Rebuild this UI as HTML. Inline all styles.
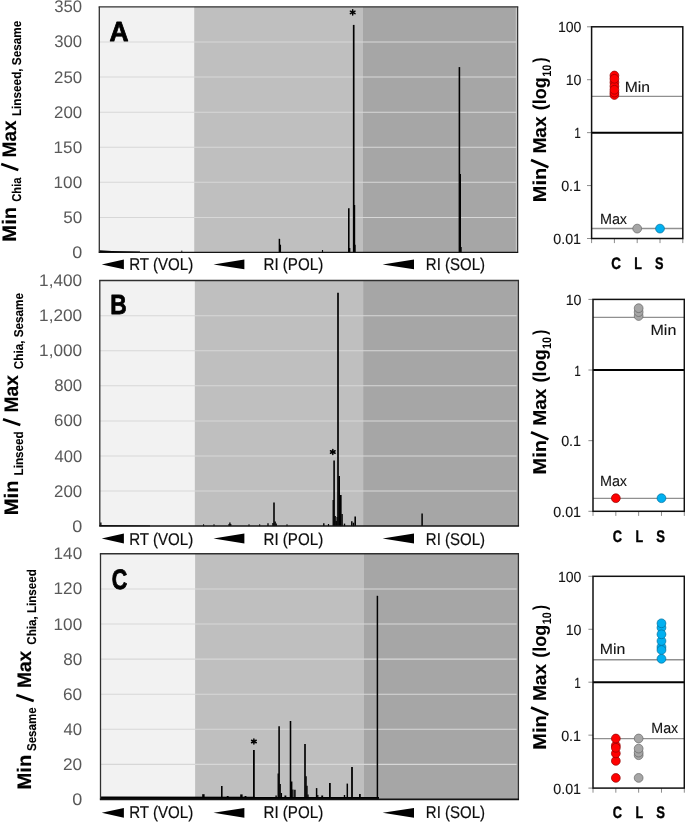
<!DOCTYPE html>
<html><head><meta charset="utf-8"><title>Figure</title>
<style>html,body{margin:0;padding:0;background:#fff;}svg{display:block;will-change:transform;opacity:0.999;}text{font-family:"Liberation Sans", sans-serif;text-rendering:geometricPrecision;}</style>
</head><body>
<svg width="685" height="822" viewBox="0 0 685 822">
<rect x="0" y="0" width="685" height="822" fill="#ffffff"/>
<g>
<rect x="99.3" y="6.8" width="94.9" height="245.65" fill="#f2f2f2"/>
<rect x="194.2" y="6.8" width="168.2" height="245.65" fill="#bfbfbf"/>
<rect x="362.4" y="6.8" width="155.25" height="245.65" fill="#a6a6a6"/>
<line x1="99.3" y1="217.44" x2="516.65" y2="217.44" stroke="#d7d7d7" stroke-width="1.05"/>
<line x1="99.3" y1="182.34" x2="516.65" y2="182.34" stroke="#d7d7d7" stroke-width="1.05"/>
<line x1="99.3" y1="147.25" x2="516.65" y2="147.25" stroke="#d7d7d7" stroke-width="1.05"/>
<line x1="99.3" y1="112.16" x2="516.65" y2="112.16" stroke="#d7d7d7" stroke-width="1.05"/>
<line x1="99.3" y1="77.07" x2="516.65" y2="77.07" stroke="#d7d7d7" stroke-width="1.05"/>
<line x1="99.3" y1="41.97" x2="516.65" y2="41.97" stroke="#d7d7d7" stroke-width="1.05"/>
<text x="72.18" y="258.05" font-size="16.9" font-weight="normal" fill="#595959" textLength="10.02" lengthAdjust="spacingAndGlyphs">0</text>
<text x="63.22" y="222.96" font-size="16.9" font-weight="normal" fill="#595959" textLength="18.96" lengthAdjust="spacingAndGlyphs">50</text>
<text x="53.62" y="187.86" font-size="16.9" font-weight="normal" fill="#595959" textLength="28.54" lengthAdjust="spacingAndGlyphs">100</text>
<text x="53.62" y="152.77" font-size="16.9" font-weight="normal" fill="#595959" textLength="28.54" lengthAdjust="spacingAndGlyphs">150</text>
<text x="54.06" y="117.68" font-size="16.9" font-weight="normal" fill="#595959" textLength="28.09" lengthAdjust="spacingAndGlyphs">200</text>
<text x="54.06" y="82.59" font-size="16.9" font-weight="normal" fill="#595959" textLength="28.09" lengthAdjust="spacingAndGlyphs">250</text>
<text x="54.27" y="47.49" font-size="16.9" font-weight="normal" fill="#595959" textLength="27.87" lengthAdjust="spacingAndGlyphs">300</text>
<text x="54.27" y="12.4" font-size="16.9" font-weight="normal" fill="#595959" textLength="27.87" lengthAdjust="spacingAndGlyphs">350</text>
<line x1="279.4" y1="238.8" x2="279.4" y2="252.45" stroke="#000" stroke-width="1.49"/>
<line x1="280.4" y1="244.7" x2="280.4" y2="252.45" stroke="#000" stroke-width="1.3"/>
<line x1="322.5" y1="250" x2="322.5" y2="252.45" stroke="#000" stroke-width="1.12"/>
<line x1="348.8" y1="208.2" x2="348.8" y2="252.45" stroke="#000" stroke-width="1.58"/>
<line x1="349.7" y1="248" x2="349.7" y2="252.45" stroke="#000" stroke-width="1.3"/>
<line x1="353.7" y1="24.9" x2="353.7" y2="252.45" stroke="#000" stroke-width="1.67"/>
<line x1="354.6" y1="205" x2="354.6" y2="252.45" stroke="#000" stroke-width="1.21"/>
<line x1="355" y1="244.7" x2="355" y2="252.45" stroke="#000" stroke-width="1.3"/>
<line x1="459.4" y1="67.1" x2="459.4" y2="252.45" stroke="#000" stroke-width="1.58"/>
<line x1="460.3" y1="173.9" x2="460.3" y2="252.45" stroke="#000" stroke-width="1.4"/>
<line x1="461" y1="246.9" x2="461" y2="252.45" stroke="#000" stroke-width="1.4"/>
<line x1="181.8" y1="250.6" x2="181.8" y2="252.45" stroke="#000" stroke-width="0.93"/>
<polygon points="99.4,250.2 112,250.9 140,251.6 140,252.4 99.4,252.4" fill="#000"/>
<line x1="516.3" y1="6.8" x2="516.3" y2="252.35" stroke="#cfcfcf" stroke-width="1"/>
<line x1="98.65" y1="6.8" x2="518.25" y2="6.8" stroke="#303030" stroke-width="1.3"/>
<line x1="99.3" y1="6.8" x2="99.3" y2="252.35" stroke="#303030" stroke-width="1.3"/>
<line x1="517.65" y1="6.8" x2="517.65" y2="252.35" stroke="#303030" stroke-width="1.2"/>
<line x1="98.65" y1="252.35" x2="518.25" y2="252.35" stroke="#141414" stroke-width="1.4"/>
<text x="109.44" y="40.95" font-size="27.6" font-weight="bold" fill="#000" textLength="19.08" lengthAdjust="spacingAndGlyphs" stroke="#000" stroke-width="0.8" stroke-linejoin="round">A</text>
<line x1="352.7" y1="15" x2="352.7" y2="9.8" stroke="#000" stroke-width="1.5" stroke-linecap="round"/>
<line x1="350.36" y1="13.64" x2="355.04" y2="11.16" stroke="#000" stroke-width="1.5" stroke-linecap="round"/>
<line x1="350.36" y1="11.16" x2="355.04" y2="13.64" stroke="#000" stroke-width="1.5" stroke-linecap="round"/>
<path d="M101.7 264.4 L123.9 259.5 L123.9 269.3 Z" fill="#000"/>
<path d="M213.5 264.4 L244.4 259.5 L244.4 269.3 Z" fill="#000"/>
<path d="M382.6 264.4 L414 259.5 L414 269.3 Z" fill="#000"/>
<text x="129.15" y="270.35" font-size="17" font-weight="normal" fill="#0d0d0d" textLength="64.04" lengthAdjust="spacingAndGlyphs" stroke="#0d0d0d" stroke-width="0.2" stroke-linejoin="round">RT (VOL)</text>
<text x="263.45" y="270.35" font-size="17" font-weight="normal" fill="#0d0d0d" textLength="59.76" lengthAdjust="spacingAndGlyphs" stroke="#0d0d0d" stroke-width="0.2" stroke-linejoin="round">RI (POL)</text>
<text x="425.86" y="270.35" font-size="17" font-weight="normal" fill="#0d0d0d" textLength="59.13" lengthAdjust="spacingAndGlyphs" stroke="#0d0d0d" stroke-width="0.2" stroke-linejoin="round">RI (SOL)</text>
</g>
<g>
<rect x="99.8" y="280.5" width="95" height="245.6" fill="#f2f2f2"/>
<rect x="194.8" y="280.5" width="168.3" height="245.6" fill="#bfbfbf"/>
<rect x="363.1" y="280.5" width="155.3" height="245.6" fill="#a6a6a6"/>
<line x1="99.8" y1="491.09" x2="517.4" y2="491.09" stroke="#d7d7d7" stroke-width="1.05"/>
<line x1="99.8" y1="456.01" x2="517.4" y2="456.01" stroke="#d7d7d7" stroke-width="1.05"/>
<line x1="99.8" y1="420.92" x2="517.4" y2="420.92" stroke="#d7d7d7" stroke-width="1.05"/>
<line x1="99.8" y1="385.84" x2="517.4" y2="385.84" stroke="#d7d7d7" stroke-width="1.05"/>
<line x1="99.8" y1="350.75" x2="517.4" y2="350.75" stroke="#d7d7d7" stroke-width="1.05"/>
<line x1="99.8" y1="315.67" x2="517.4" y2="315.67" stroke="#d7d7d7" stroke-width="1.05"/>
<text x="72.18" y="531.7" font-size="16.9" font-weight="normal" fill="#595959" textLength="10.02" lengthAdjust="spacingAndGlyphs">0</text>
<text x="54.06" y="496.61" font-size="16.9" font-weight="normal" fill="#595959" textLength="28.09" lengthAdjust="spacingAndGlyphs">200</text>
<text x="54.53" y="461.53" font-size="16.9" font-weight="normal" fill="#595959" textLength="27.61" lengthAdjust="spacingAndGlyphs">400</text>
<text x="54.06" y="426.44" font-size="16.9" font-weight="normal" fill="#595959" textLength="28.09" lengthAdjust="spacingAndGlyphs">600</text>
<text x="54.19" y="391.36" font-size="16.9" font-weight="normal" fill="#595959" textLength="27.96" lengthAdjust="spacingAndGlyphs">800</text>
<text x="39.11" y="356.27" font-size="16.9" font-weight="normal" fill="#595959" textLength="43.04" lengthAdjust="spacingAndGlyphs">1,000</text>
<text x="39.11" y="321.19" font-size="16.9" font-weight="normal" fill="#595959" textLength="43.04" lengthAdjust="spacingAndGlyphs">1,200</text>
<text x="39.11" y="286.1" font-size="16.9" font-weight="normal" fill="#595959" textLength="43.04" lengthAdjust="spacingAndGlyphs">1,400</text>
<line x1="100.8" y1="522.5" x2="100.8" y2="526.1" stroke="#000" stroke-width="1.4"/>
<line x1="203.6" y1="524.2" x2="203.6" y2="526.1" stroke="#000" stroke-width="0.93"/>
<line x1="214" y1="524.2" x2="214" y2="526.1" stroke="#000" stroke-width="0.93"/>
<line x1="249" y1="524.2" x2="249" y2="526.1" stroke="#000" stroke-width="0.93"/>
<line x1="259.7" y1="524.2" x2="259.7" y2="526.1" stroke="#000" stroke-width="0.93"/>
<line x1="229" y1="524" x2="229" y2="526.1" stroke="#000" stroke-width="1.12"/>
<line x1="229.9" y1="522.6" x2="229.9" y2="526.1" stroke="#000" stroke-width="1.3"/>
<line x1="230.8" y1="524" x2="230.8" y2="526.1" stroke="#000" stroke-width="1.12"/>
<line x1="268" y1="523.2" x2="268" y2="526.1" stroke="#000" stroke-width="1.3"/>
<line x1="272.9" y1="523" x2="272.9" y2="526.1" stroke="#000" stroke-width="1.3"/>
<line x1="274" y1="502.6" x2="274" y2="526.1" stroke="#000" stroke-width="1.58"/>
<line x1="275.2" y1="521.5" x2="275.2" y2="526.1" stroke="#000" stroke-width="1.3"/>
<line x1="276.3" y1="523.5" x2="276.3" y2="526.1" stroke="#000" stroke-width="1.12"/>
<line x1="287" y1="524.2" x2="287" y2="526.1" stroke="#000" stroke-width="0.93"/>
<line x1="323.8" y1="523.2" x2="323.8" y2="526.1" stroke="#000" stroke-width="1.4"/>
<line x1="328.5" y1="524" x2="328.5" y2="526.1" stroke="#000" stroke-width="1.21"/>
<line x1="333.2" y1="500" x2="333.2" y2="526.1" stroke="#000" stroke-width="1.3"/>
<line x1="334.1" y1="460.4" x2="334.1" y2="526.1" stroke="#000" stroke-width="1.58"/>
<line x1="335.1" y1="516" x2="335.1" y2="526.1" stroke="#000" stroke-width="1.49"/>
<line x1="336.2" y1="521" x2="336.2" y2="526.1" stroke="#000" stroke-width="1.4"/>
<line x1="338" y1="292.8" x2="338" y2="526.1" stroke="#000" stroke-width="1.67"/>
<line x1="339.2" y1="476" x2="339.2" y2="526.1" stroke="#000" stroke-width="1.58"/>
<line x1="340.8" y1="495" x2="340.8" y2="526.1" stroke="#000" stroke-width="1.67"/>
<line x1="342.1" y1="514" x2="342.1" y2="526.1" stroke="#000" stroke-width="1.4"/>
<line x1="337" y1="517" x2="337" y2="526.1" stroke="#000" stroke-width="1.12"/>
<line x1="344.5" y1="523.6" x2="344.5" y2="526.1" stroke="#000" stroke-width="1.4"/>
<line x1="351.8" y1="521.2" x2="351.8" y2="526.1" stroke="#000" stroke-width="1.49"/>
<line x1="353.5" y1="522.7" x2="353.5" y2="526.1" stroke="#000" stroke-width="1.4"/>
<line x1="355.2" y1="516.4" x2="355.2" y2="526.1" stroke="#000" stroke-width="1.58"/>
<line x1="422.1" y1="513.4" x2="422.1" y2="526.1" stroke="#000" stroke-width="1.49"/>
<polygon points="99.8,524.9 150,525.5 150,526.2 99.8,526.2" fill="#000"/>
<line x1="517.1" y1="280.5" x2="517.1" y2="526" stroke="#b4b4b4" stroke-width="1"/>
<line x1="99.15" y1="280.5" x2="519.05" y2="280.5" stroke="#303030" stroke-width="1.3"/>
<line x1="99.8" y1="280.5" x2="99.8" y2="526" stroke="#303030" stroke-width="1.3"/>
<line x1="518.4" y1="280.5" x2="518.4" y2="526" stroke="#303030" stroke-width="1.3"/>
<line x1="99.15" y1="526" x2="519.05" y2="526" stroke="#141414" stroke-width="1.4"/>
<text x="110.36" y="314.45" font-size="27.6" font-weight="bold" fill="#000" textLength="16.46" lengthAdjust="spacingAndGlyphs" stroke="#000" stroke-width="0.8" stroke-linejoin="round">B</text>
<line x1="332.8" y1="454.6" x2="332.8" y2="449.4" stroke="#000" stroke-width="1.5" stroke-linecap="round"/>
<line x1="330.46" y1="453.24" x2="335.14" y2="450.76" stroke="#000" stroke-width="1.5" stroke-linecap="round"/>
<line x1="330.46" y1="450.76" x2="335.14" y2="453.24" stroke="#000" stroke-width="1.5" stroke-linecap="round"/>
<path d="M101.7 538.5 L123.9 533.6 L123.9 543.4 Z" fill="#000"/>
<path d="M213.5 538.5 L244.4 533.6 L244.4 543.4 Z" fill="#000"/>
<path d="M382.6 538.5 L414 533.6 L414 543.4 Z" fill="#000"/>
<text x="129.15" y="544.65" font-size="17" font-weight="normal" fill="#0d0d0d" textLength="64.04" lengthAdjust="spacingAndGlyphs" stroke="#0d0d0d" stroke-width="0.2" stroke-linejoin="round">RT (VOL)</text>
<text x="263.45" y="544.65" font-size="17" font-weight="normal" fill="#0d0d0d" textLength="59.76" lengthAdjust="spacingAndGlyphs" stroke="#0d0d0d" stroke-width="0.2" stroke-linejoin="round">RI (POL)</text>
<text x="425.86" y="544.65" font-size="17" font-weight="normal" fill="#0d0d0d" textLength="59.13" lengthAdjust="spacingAndGlyphs" stroke="#0d0d0d" stroke-width="0.2" stroke-linejoin="round">RI (SOL)</text>
</g>
<g>
<rect x="100.5" y="553.75" width="94.6" height="245.65" fill="#f2f2f2"/>
<rect x="195.1" y="553.75" width="168.9" height="245.65" fill="#bfbfbf"/>
<rect x="364" y="553.75" width="154.4" height="245.65" fill="#a6a6a6"/>
<line x1="100.5" y1="764.39" x2="517.4" y2="764.39" stroke="#d7d7d7" stroke-width="1.05"/>
<line x1="100.5" y1="729.29" x2="517.4" y2="729.29" stroke="#d7d7d7" stroke-width="1.05"/>
<line x1="100.5" y1="694.2" x2="517.4" y2="694.2" stroke="#d7d7d7" stroke-width="1.05"/>
<line x1="100.5" y1="659.11" x2="517.4" y2="659.11" stroke="#d7d7d7" stroke-width="1.05"/>
<line x1="100.5" y1="624.02" x2="517.4" y2="624.02" stroke="#d7d7d7" stroke-width="1.05"/>
<line x1="100.5" y1="588.92" x2="517.4" y2="588.92" stroke="#d7d7d7" stroke-width="1.05"/>
<text x="72.18" y="805" font-size="16.9" font-weight="normal" fill="#595959" textLength="10.02" lengthAdjust="spacingAndGlyphs">0</text>
<text x="63.04" y="769.91" font-size="16.9" font-weight="normal" fill="#595959" textLength="19.15" lengthAdjust="spacingAndGlyphs">20</text>
<text x="63.52" y="734.81" font-size="16.9" font-weight="normal" fill="#595959" textLength="18.64" lengthAdjust="spacingAndGlyphs">40</text>
<text x="63.04" y="699.72" font-size="16.9" font-weight="normal" fill="#595959" textLength="19.15" lengthAdjust="spacingAndGlyphs">60</text>
<text x="63.17" y="664.63" font-size="16.9" font-weight="normal" fill="#595959" textLength="19.01" lengthAdjust="spacingAndGlyphs">80</text>
<text x="53.62" y="629.54" font-size="16.9" font-weight="normal" fill="#595959" textLength="28.54" lengthAdjust="spacingAndGlyphs">100</text>
<text x="53.62" y="594.44" font-size="16.9" font-weight="normal" fill="#595959" textLength="28.54" lengthAdjust="spacingAndGlyphs">120</text>
<text x="53.62" y="559.35" font-size="16.9" font-weight="normal" fill="#595959" textLength="28.54" lengthAdjust="spacingAndGlyphs">140</text>
<line x1="203.4" y1="794.2" x2="203.4" y2="799.4" stroke="#000" stroke-width="2.42"/>
<line x1="221.8" y1="786.1" x2="221.8" y2="799.4" stroke="#000" stroke-width="1.58"/>
<line x1="227.7" y1="796" x2="227.7" y2="799.4" stroke="#000" stroke-width="1.86"/>
<line x1="241.4" y1="794.4" x2="241.4" y2="799.4" stroke="#000" stroke-width="2.42"/>
<line x1="245.5" y1="796" x2="245.5" y2="799.4" stroke="#000" stroke-width="1.86"/>
<line x1="253.9" y1="750.1" x2="253.9" y2="799.4" stroke="#000" stroke-width="1.77"/>
<line x1="276.1" y1="795.5" x2="276.1" y2="799.4" stroke="#000" stroke-width="1.4"/>
<line x1="278.2" y1="773.6" x2="278.2" y2="799.4" stroke="#000" stroke-width="1.3"/>
<line x1="279.1" y1="726.3" x2="279.1" y2="799.4" stroke="#000" stroke-width="1.58"/>
<line x1="280.2" y1="784" x2="280.2" y2="799.4" stroke="#000" stroke-width="1.3"/>
<line x1="281.4" y1="793" x2="281.4" y2="799.4" stroke="#000" stroke-width="1.3"/>
<line x1="285.4" y1="795.5" x2="285.4" y2="799.4" stroke="#000" stroke-width="1.86"/>
<line x1="290.5" y1="721" x2="290.5" y2="799.4" stroke="#000" stroke-width="1.58"/>
<line x1="291.7" y1="781.5" x2="291.7" y2="799.4" stroke="#000" stroke-width="1.4"/>
<line x1="292.9" y1="789.4" x2="292.9" y2="799.4" stroke="#000" stroke-width="1.3"/>
<line x1="294.9" y1="789.7" x2="294.9" y2="799.4" stroke="#000" stroke-width="1.49"/>
<line x1="305" y1="744.1" x2="305" y2="799.4" stroke="#000" stroke-width="1.67"/>
<line x1="306.1" y1="776.2" x2="306.1" y2="799.4" stroke="#000" stroke-width="1.3"/>
<line x1="307" y1="785.8" x2="307" y2="799.4" stroke="#000" stroke-width="1.3"/>
<line x1="308" y1="794.5" x2="308" y2="799.4" stroke="#000" stroke-width="1.3"/>
<line x1="316.6" y1="788.1" x2="316.6" y2="799.4" stroke="#000" stroke-width="1.49"/>
<line x1="317.8" y1="795" x2="317.8" y2="799.4" stroke="#000" stroke-width="1.21"/>
<line x1="322.2" y1="795.5" x2="322.2" y2="799.4" stroke="#000" stroke-width="1.86"/>
<line x1="329.9" y1="782.9" x2="329.9" y2="799.4" stroke="#000" stroke-width="1.77"/>
<line x1="344.5" y1="795" x2="344.5" y2="799.4" stroke="#000" stroke-width="1.4"/>
<line x1="347.3" y1="783.6" x2="347.3" y2="799.4" stroke="#000" stroke-width="1.49"/>
<line x1="352" y1="766.9" x2="352" y2="799.4" stroke="#000" stroke-width="1.77"/>
<line x1="359.9" y1="794.1" x2="359.9" y2="799.4" stroke="#000" stroke-width="1.77"/>
<line x1="377.4" y1="595.8" x2="377.4" y2="799.4" stroke="#000" stroke-width="1.49"/>
<polygon points="100.6,796.5 379,796.8 379,799.5 100.6,799.5" fill="#000"/>
<line x1="517.1" y1="553.75" x2="517.1" y2="799.4" stroke="#aeaeae" stroke-width="1"/>
<line x1="99.85" y1="553.75" x2="519.05" y2="553.75" stroke="#303030" stroke-width="1.3"/>
<line x1="100.5" y1="553.75" x2="100.5" y2="799.4" stroke="#303030" stroke-width="1.3"/>
<line x1="518.4" y1="553.75" x2="518.4" y2="799.4" stroke="#303030" stroke-width="1.3"/>
<line x1="99.85" y1="799.4" x2="519.05" y2="799.4" stroke="#141414" stroke-width="1.9"/>
<text x="111.74" y="588.9" font-size="28.2" font-weight="bold" fill="#000" textLength="15.55" lengthAdjust="spacingAndGlyphs" stroke="#000" stroke-width="0.8" stroke-linejoin="round">C</text>
<line x1="253.9" y1="744.1" x2="253.9" y2="738.9" stroke="#000" stroke-width="1.5" stroke-linecap="round"/>
<line x1="251.56" y1="742.74" x2="256.24" y2="740.26" stroke="#000" stroke-width="1.5" stroke-linecap="round"/>
<line x1="251.56" y1="740.26" x2="256.24" y2="742.74" stroke="#000" stroke-width="1.5" stroke-linecap="round"/>
<path d="M101.7 812.8 L123.9 807.9 L123.9 817.7 Z" fill="#000"/>
<path d="M213.5 812.8 L244.4 807.9 L244.4 817.7 Z" fill="#000"/>
<path d="M382.6 812.8 L414 807.9 L414 817.7 Z" fill="#000"/>
<text x="129.15" y="818.2" font-size="17" font-weight="normal" fill="#0d0d0d" textLength="64.04" lengthAdjust="spacingAndGlyphs" stroke="#0d0d0d" stroke-width="0.2" stroke-linejoin="round">RT (VOL)</text>
<text x="263.45" y="818.2" font-size="17" font-weight="normal" fill="#0d0d0d" textLength="59.76" lengthAdjust="spacingAndGlyphs" stroke="#0d0d0d" stroke-width="0.2" stroke-linejoin="round">RI (POL)</text>
<text x="425.86" y="818.2" font-size="17" font-weight="normal" fill="#0d0d0d" textLength="59.13" lengthAdjust="spacingAndGlyphs" stroke="#0d0d0d" stroke-width="0.2" stroke-linejoin="round">RI (SOL)</text>
</g>
<text transform="translate(16 240.3) rotate(-90)" x="-1.36" font-size="19.6" font-weight="bold" fill="#000" textLength="34.7" lengthAdjust="spacingAndGlyphs" stroke="#000" stroke-width="0.12" stroke-linejoin="round">Min</text>
<text transform="translate(21.3 201.3) rotate(-90)" x="-0.45" font-size="12.8" font-weight="bold" fill="#000" textLength="24.19" lengthAdjust="spacingAndGlyphs" stroke="#000" stroke-width="0.1" stroke-linejoin="round">Chia</text>
<text transform="translate(16 156.1) rotate(-90)" x="-1.29" font-size="19.6" font-weight="bold" fill="#000" textLength="37.03" lengthAdjust="spacingAndGlyphs" stroke="#000" stroke-width="0.12" stroke-linejoin="round">Max</text>
<text transform="translate(21.3 115.3) rotate(-90)" x="-0.79" font-size="12.8" font-weight="bold" fill="#000" textLength="95.38" lengthAdjust="spacingAndGlyphs" stroke="#000" stroke-width="0.1" stroke-linejoin="round">Linseed, Sesame</text>
<line x1="18.3" y1="170" x2="1.2" y2="164" stroke="#000" stroke-width="2.6"/>
<text transform="translate(17.8 513.8) rotate(-90)" x="-1.36" font-size="19.6" font-weight="bold" fill="#000" textLength="34.6" lengthAdjust="spacingAndGlyphs" stroke="#000" stroke-width="0.12" stroke-linejoin="round">Min</text>
<text transform="translate(23 474.7) rotate(-90)" x="-0.79" font-size="12.8" font-weight="bold" fill="#000" textLength="44.06" lengthAdjust="spacingAndGlyphs" stroke="#000" stroke-width="0.1" stroke-linejoin="round">Linseed</text>
<text transform="translate(17.8 411.3) rotate(-90)" x="-1.3" font-size="19.6" font-weight="bold" fill="#000" textLength="37.45" lengthAdjust="spacingAndGlyphs" stroke="#000" stroke-width="0.12" stroke-linejoin="round">Max</text>
<text transform="translate(23 368.8) rotate(-90)" x="-0.47" font-size="12.8" font-weight="bold" fill="#000" textLength="76.36" lengthAdjust="spacingAndGlyphs" stroke="#000" stroke-width="0.1" stroke-linejoin="round">Chia, Sesame</text>
<line x1="20.3" y1="425.1" x2="3" y2="419.2" stroke="#000" stroke-width="2.6"/>
<text transform="translate(30.9 788.2) rotate(-90)" x="-1.36" font-size="19.6" font-weight="bold" fill="#000" textLength="34.81" lengthAdjust="spacingAndGlyphs" stroke="#000" stroke-width="0.12" stroke-linejoin="round">Min</text>
<text transform="translate(36.1 750.7) rotate(-90)" x="-0.35" font-size="12.8" font-weight="bold" fill="#000" textLength="43.63" lengthAdjust="spacingAndGlyphs" stroke="#000" stroke-width="0.1" stroke-linejoin="round">Sesame</text>
<text transform="translate(30.9 686.8) rotate(-90)" x="-1.3" font-size="19.6" font-weight="bold" fill="#000" textLength="37.35" lengthAdjust="spacingAndGlyphs" stroke="#000" stroke-width="0.12" stroke-linejoin="round">Max</text>
<text transform="translate(36.1 644.3) rotate(-90)" x="-0.46" font-size="12.8" font-weight="bold" fill="#000" textLength="75.54" lengthAdjust="spacingAndGlyphs" stroke="#000" stroke-width="0.1" stroke-linejoin="round">Chia, Linseed</text>
<line x1="33.7" y1="700.9" x2="16.3" y2="694.9" stroke="#000" stroke-width="2.6"/>
<g>
<rect x="591.6" y="26.8" width="91.2" height="211.7" fill="#fff"/>
<line x1="587" y1="26.8" x2="591.6" y2="26.8" stroke="#8c8c8c" stroke-width="1"/>
<text x="557.94" y="32.35" font-size="14.7" font-weight="normal" fill="#141414" textLength="23.5" lengthAdjust="spacingAndGlyphs" stroke="#141414" stroke-width="0.12" stroke-linejoin="round">100</text>
<line x1="587" y1="79.72" x2="591.6" y2="79.72" stroke="#8c8c8c" stroke-width="1"/>
<text x="565.63" y="85.27" font-size="14.7" font-weight="normal" fill="#141414" textLength="15.83" lengthAdjust="spacingAndGlyphs" stroke="#141414" stroke-width="0.12" stroke-linejoin="round">10</text>
<line x1="587" y1="132.65" x2="591.6" y2="132.65" stroke="#8c8c8c" stroke-width="1"/>
<text x="574.32" y="138.2" font-size="14.7" font-weight="normal" fill="#141414" textLength="6.56" lengthAdjust="spacingAndGlyphs" stroke="#141414" stroke-width="0.12" stroke-linejoin="round">1</text>
<line x1="587" y1="185.57" x2="591.6" y2="185.57" stroke="#8c8c8c" stroke-width="1"/>
<text x="561.13" y="191.12" font-size="14.7" font-weight="normal" fill="#141414" textLength="19.96" lengthAdjust="spacingAndGlyphs" stroke="#141414" stroke-width="0.12" stroke-linejoin="round">0.1</text>
<line x1="587" y1="238.5" x2="591.6" y2="238.5" stroke="#8c8c8c" stroke-width="1"/>
<text x="553.23" y="244.05" font-size="14.7" font-weight="normal" fill="#141414" textLength="27.87" lengthAdjust="spacingAndGlyphs" stroke="#141414" stroke-width="0.12" stroke-linejoin="round">0.01</text>
<line x1="591.6" y1="238.5" x2="591.6" y2="243.1" stroke="#8c8c8c" stroke-width="1"/>
<line x1="614.4" y1="238.5" x2="614.4" y2="243.1" stroke="#8c8c8c" stroke-width="1"/>
<line x1="637.2" y1="238.5" x2="637.2" y2="243.1" stroke="#8c8c8c" stroke-width="1"/>
<line x1="660" y1="238.5" x2="660" y2="243.1" stroke="#8c8c8c" stroke-width="1"/>
<line x1="682.8" y1="238.5" x2="682.8" y2="243.1" stroke="#8c8c8c" stroke-width="1"/>
</g>
<g>
<rect x="593" y="299.4" width="91.3" height="211.9" fill="#fff"/>
<line x1="588.4" y1="299.4" x2="593" y2="299.4" stroke="#8c8c8c" stroke-width="1"/>
<text x="565.63" y="304.95" font-size="14.7" font-weight="normal" fill="#141414" textLength="15.83" lengthAdjust="spacingAndGlyphs" stroke="#141414" stroke-width="0.12" stroke-linejoin="round">10</text>
<line x1="588.4" y1="370.03" x2="593" y2="370.03" stroke="#8c8c8c" stroke-width="1"/>
<text x="574.32" y="375.58" font-size="14.7" font-weight="normal" fill="#141414" textLength="6.56" lengthAdjust="spacingAndGlyphs" stroke="#141414" stroke-width="0.12" stroke-linejoin="round">1</text>
<line x1="588.4" y1="440.67" x2="593" y2="440.67" stroke="#8c8c8c" stroke-width="1"/>
<text x="561.13" y="446.22" font-size="14.7" font-weight="normal" fill="#141414" textLength="19.96" lengthAdjust="spacingAndGlyphs" stroke="#141414" stroke-width="0.12" stroke-linejoin="round">0.1</text>
<line x1="588.4" y1="511.3" x2="593" y2="511.3" stroke="#8c8c8c" stroke-width="1"/>
<text x="553.23" y="516.85" font-size="14.7" font-weight="normal" fill="#141414" textLength="27.87" lengthAdjust="spacingAndGlyphs" stroke="#141414" stroke-width="0.12" stroke-linejoin="round">0.01</text>
<line x1="593" y1="511.3" x2="593" y2="515.9" stroke="#8c8c8c" stroke-width="1"/>
<line x1="615.83" y1="511.3" x2="615.83" y2="515.9" stroke="#8c8c8c" stroke-width="1"/>
<line x1="638.65" y1="511.3" x2="638.65" y2="515.9" stroke="#8c8c8c" stroke-width="1"/>
<line x1="661.47" y1="511.3" x2="661.47" y2="515.9" stroke="#8c8c8c" stroke-width="1"/>
<line x1="684.3" y1="511.3" x2="684.3" y2="515.9" stroke="#8c8c8c" stroke-width="1"/>
</g>
<g>
<rect x="593" y="576.3" width="91.3" height="211.8" fill="#fff"/>
<line x1="588.4" y1="576.3" x2="593" y2="576.3" stroke="#8c8c8c" stroke-width="1"/>
<text x="557.94" y="581.85" font-size="14.7" font-weight="normal" fill="#141414" textLength="23.5" lengthAdjust="spacingAndGlyphs" stroke="#141414" stroke-width="0.12" stroke-linejoin="round">100</text>
<line x1="588.4" y1="629.25" x2="593" y2="629.25" stroke="#8c8c8c" stroke-width="1"/>
<text x="565.63" y="634.8" font-size="14.7" font-weight="normal" fill="#141414" textLength="15.83" lengthAdjust="spacingAndGlyphs" stroke="#141414" stroke-width="0.12" stroke-linejoin="round">10</text>
<line x1="588.4" y1="682.2" x2="593" y2="682.2" stroke="#8c8c8c" stroke-width="1"/>
<text x="574.32" y="687.75" font-size="14.7" font-weight="normal" fill="#141414" textLength="6.56" lengthAdjust="spacingAndGlyphs" stroke="#141414" stroke-width="0.12" stroke-linejoin="round">1</text>
<line x1="588.4" y1="735.15" x2="593" y2="735.15" stroke="#8c8c8c" stroke-width="1"/>
<text x="561.13" y="740.7" font-size="14.7" font-weight="normal" fill="#141414" textLength="19.96" lengthAdjust="spacingAndGlyphs" stroke="#141414" stroke-width="0.12" stroke-linejoin="round">0.1</text>
<line x1="588.4" y1="788.1" x2="593" y2="788.1" stroke="#8c8c8c" stroke-width="1"/>
<text x="553.23" y="793.65" font-size="14.7" font-weight="normal" fill="#141414" textLength="27.87" lengthAdjust="spacingAndGlyphs" stroke="#141414" stroke-width="0.12" stroke-linejoin="round">0.01</text>
<line x1="593" y1="788.1" x2="593" y2="792.7" stroke="#8c8c8c" stroke-width="1"/>
<line x1="615.83" y1="788.1" x2="615.83" y2="792.7" stroke="#8c8c8c" stroke-width="1"/>
<line x1="638.65" y1="788.1" x2="638.65" y2="792.7" stroke="#8c8c8c" stroke-width="1"/>
<line x1="661.47" y1="788.1" x2="661.47" y2="792.7" stroke="#8c8c8c" stroke-width="1"/>
<line x1="684.3" y1="788.1" x2="684.3" y2="792.7" stroke="#8c8c8c" stroke-width="1"/>
</g>
<line x1="591.6" y1="96.3" x2="682.8" y2="96.3" stroke="#909090" stroke-width="1.35"/>
<line x1="591.6" y1="228.45" x2="682.8" y2="228.45" stroke="#909090" stroke-width="1.35"/>
<circle cx="614.4" cy="75.5" r="4.4" fill="#ff0000" stroke="#8f0000" stroke-width="0.7"/>
<circle cx="614.4" cy="95" r="4.4" fill="#ff0000" stroke="#8f0000" stroke-width="0.7"/>
<circle cx="614.4" cy="82.4" r="4.4" fill="#ff0000" stroke="#8f0000" stroke-width="0.7"/>
<circle cx="614.4" cy="86.2" r="4.4" fill="#ff0000" stroke="#8f0000" stroke-width="0.7"/>
<circle cx="614.4" cy="92.6" r="4.4" fill="#ff0000" stroke="#8f0000" stroke-width="0.7"/>
<circle cx="614.4" cy="78.8" r="4.4" fill="#ff0000" stroke="#8f0000" stroke-width="0.7"/>
<circle cx="614.4" cy="89.8" r="4.4" fill="#ff0000" stroke="#8f0000" stroke-width="0.7"/>
<circle cx="637.2" cy="228.6" r="4.4" fill="#a6a6a6" stroke="#666666" stroke-width="0.7"/>
<circle cx="660" cy="228.6" r="4.4" fill="#00b0f0" stroke="#006f9c" stroke-width="0.7"/>
<text x="624.7" y="92.3" font-size="14.7" font-weight="normal" fill="#141414" textLength="25.3" lengthAdjust="spacingAndGlyphs" stroke="#141414" stroke-width="0.12" stroke-linejoin="round">Min</text>
<text x="599.91" y="224.3" font-size="14.7" font-weight="normal" fill="#141414" textLength="27.15" lengthAdjust="spacingAndGlyphs" stroke="#141414" stroke-width="0.12" stroke-linejoin="round">Max</text>
<line x1="591.6" y1="132.65" x2="682.8" y2="132.65" stroke="#000" stroke-width="2"/>
<rect x="591.6" y="26.8" width="91.2" height="211.7" fill="none" stroke="#111" stroke-width="1.5"/>
<text x="611.16" y="269.4" font-size="16.7" font-weight="bold" fill="#000" textLength="9.7" lengthAdjust="spacingAndGlyphs" stroke="#000" stroke-width="0.4" stroke-linejoin="round">C</text>
<text x="634.26" y="269.4" font-size="16.7" font-weight="bold" fill="#000" textLength="7.63" lengthAdjust="spacingAndGlyphs" stroke="#000" stroke-width="0.4" stroke-linejoin="round">L</text>
<text x="655.02" y="269.4" font-size="16.7" font-weight="bold" fill="#000" textLength="8.48" lengthAdjust="spacingAndGlyphs" stroke="#000" stroke-width="0.4" stroke-linejoin="round">S</text>
<text transform="translate(545.8 200.9) rotate(-90)" x="-1.35" font-size="18.6" font-weight="bold" fill="#000" textLength="34.38" lengthAdjust="spacingAndGlyphs" stroke="#000" stroke-width="0.12" stroke-linejoin="round">Min</text>
<text transform="translate(545.8 152.3) rotate(-90)" x="-1.29" font-size="18.6" font-weight="bold" fill="#000" textLength="37.24" lengthAdjust="spacingAndGlyphs" stroke="#000" stroke-width="0.12" stroke-linejoin="round">Max</text>
<text transform="translate(545.8 109.3) rotate(-90)" x="-0.9" font-size="18.6" font-weight="bold" fill="#000" textLength="33.08" lengthAdjust="spacingAndGlyphs" stroke="#000" stroke-width="0.12" stroke-linejoin="round">(log</text>
<text transform="translate(551.2 76.1) rotate(-90)" x="-0.68" font-size="12.4" font-weight="bold" fill="#000" textLength="12.14" lengthAdjust="spacingAndGlyphs">10</text>
<text transform="translate(545.8 62.4) rotate(-90)" x="-0.04" font-size="18.6" font-weight="bold" fill="#000" textLength="5" lengthAdjust="spacingAndGlyphs" stroke="#000" stroke-width="0.12" stroke-linejoin="round">)</text>
<line x1="548.4" y1="167.2" x2="531" y2="160" stroke="#000" stroke-width="2.6"/>
<line x1="593" y1="317.3" x2="684.3" y2="317.3" stroke="#909090" stroke-width="1.35"/>
<line x1="593" y1="498.3" x2="684.3" y2="498.3" stroke="#909090" stroke-width="1.35"/>
<circle cx="638.65" cy="316" r="4.4" fill="#a6a6a6" stroke="#666666" stroke-width="0.7"/>
<circle cx="638.65" cy="312.1" r="4.4" fill="#a6a6a6" stroke="#666666" stroke-width="0.7"/>
<circle cx="638.65" cy="308.2" r="4.4" fill="#a6a6a6" stroke="#666666" stroke-width="0.7"/>
<circle cx="615.83" cy="498.2" r="4.4" fill="#ff0000" stroke="#8f0000" stroke-width="0.7"/>
<circle cx="661.47" cy="498.2" r="4.4" fill="#00b0f0" stroke="#006f9c" stroke-width="0.7"/>
<text x="650.48" y="335.1" font-size="14.7" font-weight="normal" fill="#141414" textLength="25.85" lengthAdjust="spacingAndGlyphs" stroke="#141414" stroke-width="0.12" stroke-linejoin="round">Min</text>
<text x="599.91" y="486" font-size="14.7" font-weight="normal" fill="#141414" textLength="27.15" lengthAdjust="spacingAndGlyphs" stroke="#141414" stroke-width="0.12" stroke-linejoin="round">Max</text>
<line x1="593" y1="370.03" x2="684.3" y2="370.03" stroke="#000" stroke-width="2"/>
<rect x="593" y="299.4" width="91.3" height="211.9" fill="none" stroke="#111" stroke-width="1.5"/>
<text x="612.79" y="541.6" font-size="16.7" font-weight="bold" fill="#000" textLength="9.26" lengthAdjust="spacingAndGlyphs" stroke="#000" stroke-width="0.4" stroke-linejoin="round">C</text>
<text x="635.46" y="541.6" font-size="16.7" font-weight="bold" fill="#000" textLength="7.63" lengthAdjust="spacingAndGlyphs" stroke="#000" stroke-width="0.4" stroke-linejoin="round">L</text>
<text x="656.21" y="541.6" font-size="16.7" font-weight="bold" fill="#000" textLength="8.71" lengthAdjust="spacingAndGlyphs" stroke="#000" stroke-width="0.4" stroke-linejoin="round">S</text>
<text transform="translate(545.8 473.1) rotate(-90)" x="-1.35" font-size="18.6" font-weight="bold" fill="#000" textLength="34.38" lengthAdjust="spacingAndGlyphs" stroke="#000" stroke-width="0.12" stroke-linejoin="round">Min</text>
<text transform="translate(545.8 424.5) rotate(-90)" x="-1.29" font-size="18.6" font-weight="bold" fill="#000" textLength="37.24" lengthAdjust="spacingAndGlyphs" stroke="#000" stroke-width="0.12" stroke-linejoin="round">Max</text>
<text transform="translate(545.8 381.5) rotate(-90)" x="-0.9" font-size="18.6" font-weight="bold" fill="#000" textLength="33.08" lengthAdjust="spacingAndGlyphs" stroke="#000" stroke-width="0.12" stroke-linejoin="round">(log</text>
<text transform="translate(551.2 348.3) rotate(-90)" x="-0.68" font-size="12.4" font-weight="bold" fill="#000" textLength="12.14" lengthAdjust="spacingAndGlyphs">10</text>
<text transform="translate(545.8 334.6) rotate(-90)" x="-0.04" font-size="18.6" font-weight="bold" fill="#000" textLength="5" lengthAdjust="spacingAndGlyphs" stroke="#000" stroke-width="0.12" stroke-linejoin="round">)</text>
<line x1="548.4" y1="439.4" x2="531" y2="432.2" stroke="#000" stroke-width="2.6"/>
<line x1="593" y1="659.7" x2="684.3" y2="659.7" stroke="#909090" stroke-width="1.35"/>
<line x1="593" y1="738.6" x2="684.3" y2="738.6" stroke="#909090" stroke-width="1.35"/>
<circle cx="661.47" cy="627.7" r="4.4" fill="#00b0f0" stroke="#006f9c" stroke-width="0.7"/>
<circle cx="661.47" cy="647" r="4.4" fill="#00b0f0" stroke="#006f9c" stroke-width="0.7"/>
<circle cx="661.47" cy="658.8" r="4.4" fill="#00b0f0" stroke="#006f9c" stroke-width="0.7"/>
<circle cx="661.47" cy="650" r="4.4" fill="#00b0f0" stroke="#006f9c" stroke-width="0.7"/>
<circle cx="661.47" cy="641" r="4.4" fill="#00b0f0" stroke="#006f9c" stroke-width="0.7"/>
<circle cx="661.47" cy="634.3" r="4.4" fill="#00b0f0" stroke="#006f9c" stroke-width="0.7"/>
<circle cx="661.47" cy="623.3" r="4.4" fill="#00b0f0" stroke="#006f9c" stroke-width="0.7"/>
<circle cx="615.83" cy="777.9" r="4.4" fill="#ff0000" stroke="#8f0000" stroke-width="0.7"/>
<circle cx="615.83" cy="760.9" r="4.4" fill="#ff0000" stroke="#8f0000" stroke-width="0.7"/>
<circle cx="615.83" cy="753.4" r="4.4" fill="#ff0000" stroke="#8f0000" stroke-width="0.7"/>
<circle cx="615.83" cy="745.5" r="4.4" fill="#ff0000" stroke="#8f0000" stroke-width="0.7"/>
<circle cx="615.83" cy="738.5" r="4.4" fill="#ff0000" stroke="#8f0000" stroke-width="0.7"/>
<circle cx="615.83" cy="747.8" r="4.4" fill="#ff0000" stroke="#8f0000" stroke-width="0.7"/>
<circle cx="638.65" cy="777.9" r="4.4" fill="#a6a6a6" stroke="#666666" stroke-width="0.7"/>
<circle cx="638.65" cy="755.2" r="4.4" fill="#a6a6a6" stroke="#666666" stroke-width="0.7"/>
<circle cx="638.65" cy="752.6" r="4.4" fill="#a6a6a6" stroke="#666666" stroke-width="0.7"/>
<circle cx="638.65" cy="738.5" r="4.4" fill="#a6a6a6" stroke="#666666" stroke-width="0.7"/>
<circle cx="638.65" cy="748.6" r="4.4" fill="#a6a6a6" stroke="#666666" stroke-width="0.7"/>
<text x="599.79" y="653.7" font-size="14.7" font-weight="normal" fill="#141414" textLength="25.52" lengthAdjust="spacingAndGlyphs" stroke="#141414" stroke-width="0.12" stroke-linejoin="round">Min</text>
<text x="651.32" y="732.8" font-size="14.7" font-weight="normal" fill="#141414" textLength="26.94" lengthAdjust="spacingAndGlyphs" stroke="#141414" stroke-width="0.12" stroke-linejoin="round">Max</text>
<line x1="593" y1="682.2" x2="684.3" y2="682.2" stroke="#000" stroke-width="2"/>
<rect x="593" y="576.3" width="91.3" height="211.8" fill="none" stroke="#111" stroke-width="1.5"/>
<text x="612.79" y="817.6" font-size="16.7" font-weight="bold" fill="#000" textLength="9.26" lengthAdjust="spacingAndGlyphs" stroke="#000" stroke-width="0.4" stroke-linejoin="round">C</text>
<text x="635.46" y="817.6" font-size="16.7" font-weight="bold" fill="#000" textLength="7.63" lengthAdjust="spacingAndGlyphs" stroke="#000" stroke-width="0.4" stroke-linejoin="round">L</text>
<text x="656.21" y="817.6" font-size="16.7" font-weight="bold" fill="#000" textLength="8.71" lengthAdjust="spacingAndGlyphs" stroke="#000" stroke-width="0.4" stroke-linejoin="round">S</text>
<text transform="translate(545.8 748.4) rotate(-90)" x="-1.35" font-size="18.6" font-weight="bold" fill="#000" textLength="34.38" lengthAdjust="spacingAndGlyphs" stroke="#000" stroke-width="0.12" stroke-linejoin="round">Min</text>
<text transform="translate(545.8 699.8) rotate(-90)" x="-1.29" font-size="18.6" font-weight="bold" fill="#000" textLength="37.24" lengthAdjust="spacingAndGlyphs" stroke="#000" stroke-width="0.12" stroke-linejoin="round">Max</text>
<text transform="translate(545.8 656.8) rotate(-90)" x="-0.9" font-size="18.6" font-weight="bold" fill="#000" textLength="33.08" lengthAdjust="spacingAndGlyphs" stroke="#000" stroke-width="0.12" stroke-linejoin="round">(log</text>
<text transform="translate(551.2 623.6) rotate(-90)" x="-0.68" font-size="12.4" font-weight="bold" fill="#000" textLength="12.14" lengthAdjust="spacingAndGlyphs">10</text>
<text transform="translate(545.8 609.9) rotate(-90)" x="-0.04" font-size="18.6" font-weight="bold" fill="#000" textLength="5" lengthAdjust="spacingAndGlyphs" stroke="#000" stroke-width="0.12" stroke-linejoin="round">)</text>
<line x1="548.4" y1="714.7" x2="531" y2="707.5" stroke="#000" stroke-width="2.6"/>
</svg>
</body></html>
